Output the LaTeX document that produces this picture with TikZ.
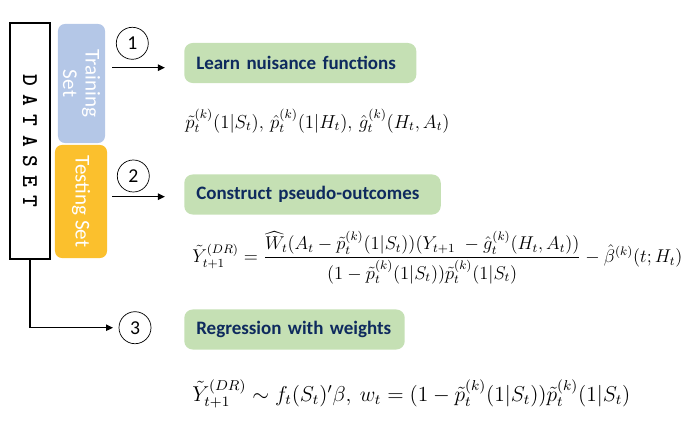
\documentclass[tikz,border=0pt]{standalone}
\usepackage[no-math]{fontspec}
\setmainfont{Carlito}
\newfontfamily\dsfont[LetterSpace=37.5]{lmmonolt10-bold.otf}
\usepackage{amsmath}
\usetikzlibrary{arrows.meta,positioning}
\definecolor{trainblue}{HTML}{B4C7E7}
\definecolor{testgold}{HTML}{FBC02D}
\definecolor{stepgreen}{HTML}{C5E0B4}
\definecolor{navytext}{HTML}{0E2A5E}
\tikzset{
  dsbox/.style    ={draw,line width=0.8pt,rotate=-90,minimum width=5.9cm,minimum height=1cm,inner sep=0pt,
                    font=\fontsize{16}{16}\selectfont\dsfont},
  splitbox/.style ={rounded corners=5pt,rotate=-90,align=center,inner sep=0pt,text=white,
                    font=\fontsize{15}{16}\selectfont},
  stepnum/.style  ={draw,circle,line width=0.5pt,minimum size=0.8cm,inner sep=0pt,font=\fontsize{14}{14}\selectfont},
  stepbox/.style  ={fill=stepgreen,rounded corners=6pt,minimum height=1cm,inner xsep=0.3cm,align=left,anchor=west,
                    text=navytext,font=\fontsize{13.5}{16}\selectfont\bfseries},
  formula/.style  ={inner sep=0pt,anchor=west,font=\fontsize{12}{14}\selectfont},
  arrow/.style    ={-{Triangle[length=5pt,width=4.5pt]},line width=1.1pt}
}
\begin{document}
\begin{tikzpicture}[x=0.025cm,y=-0.025cm]
    \useasboundingbox (0,0) rectangle (688,425);
    % data split
    \node[dsbox] (dataset) at (30,141) {DATASET};
    \node[splitbox,fill=trainblue,minimum width=2.975cm,minimum height=1.175cm] (train) at (81.5,83.5) {Training\\Set};
    \node[splitbox,fill=testgold,minimum width=2.825cm,minimum height=1.3cm] (test) at (81,201.5) {Testing Set};
    % steps
    \node[stepnum] (n1) at (132.3,43.3) {1};
    \node[stepnum] (n2) at (133.3,176)  {2};
    \node[stepnum] (n3) at (135,327.7)  {3};
    \node[stepbox,text width=5.2cm]  (learn)     at (184,63)    {Learn nuisance functions};
    \node[stepbox,text width=5.81cm] (construct) at (184,194.5) {Construct pseudo-outcomes};
    \node[stepbox,text width=4.91cm] (regress)   at (184,329.5) {Regression with weights};
    % formulas
    \node[formula,below right=1.45cm and 0.03cm of learn.west,anchor=west] (f1)
      {\resizebox{6.6cm}{!}{$\tilde{p}_t^{(k)}(1|S_t),\,\hat{p}_t^{(k)}(1|H_t),\,\hat{g}_t^{(k)}(H_t,A_t)$}};
    \node[formula,below right=1.575cm and 0.2cm of construct.west,anchor=west] (f2)
      {\resizebox{12.25cm}{!}{$\tilde{Y}_{t+1}^{(DR)}=\dfrac{\widehat{W}_t(A_t-\tilde{p}_t^{(k)}(1|S_t))(Y_{t+1}\;-\hat{g}_t^{(k)}(H_t,A_t))}{(1-\tilde{p}_t^{(k)}(1|S_t))\tilde{p}_t^{(k)}(1|S_t)}-\hat{\beta}^{(k)}(t;H_t)$}};
    \node[formula,below right=1.61cm and 0.2cm of regress.west,anchor=west] (f3)
      {\resizebox{10.95cm}{!}{$\tilde{Y}_{t+1}^{(DR)}\sim f_t(S_t)'\beta,\ w_t=(1-\tilde{p}_t^{(k)}(1|S_t))\tilde{p}_t^{(k)}(1|S_t)$}};
    % arrows
    \coordinate (out1) at (112,67.7);
    \coordinate (out2) at (112,196.7);
    \draw[arrow,shorten >=0.475cm] (out1) -- (out1 -| learn.west);
    \draw[arrow,shorten >=0.475cm] (out2) -- (out2 -| construct.west);
    \draw[arrow,shorten >=0.14cm] (dataset.east) |- (n3);
\end{tikzpicture}
\end{document}
